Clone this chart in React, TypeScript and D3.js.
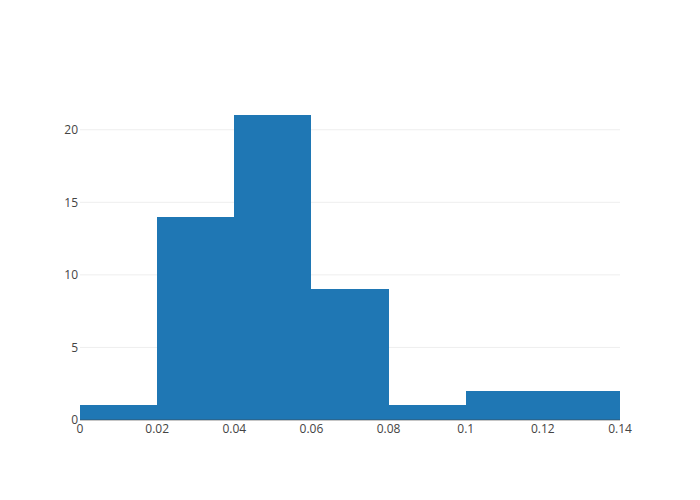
import React from "react";
import * as d3 from "d3";

const binStarts = [0, 0.02, 0.04, 0.06, 0.08, 0.1, 0.12];
const binWidth = 0.02;
const counts = [1, 14, 21, 9, 1, 2, 2];
const xTicks = [0, 0.02, 0.04, 0.06, 0.08, 0.1, 0.12, 0.14];
const yTicks = [0, 5, 10, 15, 20];

export default function App() {
  const W = 700, H = 500;
  const m = { l: 80, r: 80, t: 100, b: 80 };
  const x = d3.scaleLinear().domain([0, 0.14]).range([m.l, W - m.r]);
  const y = d3.scaleLinear().domain([0, 21 * 1.05]).range([H - m.b, m.t]);
  const font = "'Open Sans', sans-serif";
  return (
    <svg width={W} height={H} style={{ position: "absolute", left: 0, top: 0, background: "#fff" }}>
      {yTicks.filter(t => t !== 0).map(t => (
        <line key={t} x1={m.l} x2={W - m.r} y1={y(t)} y2={y(t)} stroke="#eee" strokeWidth={1} />
      ))}
      {binStarts.map((s, i) => (
        <rect key={i} x={x(s)} width={x(s + binWidth) - x(s)} y={y(counts[i])}
          height={y(0) - y(counts[i])} fill="#1f77b4" shapeRendering="crispEdges" />
      ))}
      <line x1={m.l} x2={W - m.r} y1={y(0)} y2={y(0)} stroke="#444" strokeWidth={1} opacity={0.6} />
      {yTicks.map(t => (
        <text key={t} x={m.l - 2} y={y(t)} dy="0.35em" textAnchor="end" fontFamily={font} fontSize={12} fill="#444">{t}</text>
      ))}
      {xTicks.map(t => (
        <text key={t} x={x(t)} y={H - m.b + 4} dy="0.71em" textAnchor="middle" fontFamily={font} fontSize={12} fill="#444">{d3.format("~g")(t)}</text>
      ))}
    </svg>
  );
}
